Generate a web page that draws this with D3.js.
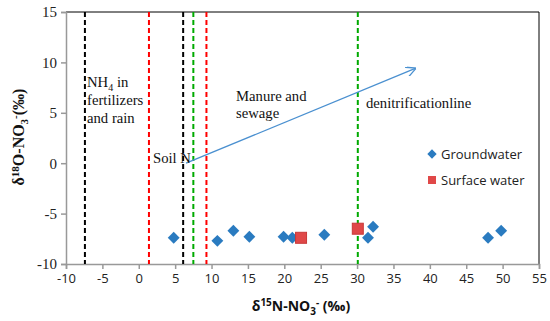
<!DOCTYPE html>
<html>
<head>
<meta charset="UTF-8">
<title>d15N vs d18O</title>
<script src="https://cdn.jsdelivr.net/npm/d3@7"></script>
<style>
body { margin: 0; background: #fff; }
.serif { font-family: "Liberation Serif", "DejaVu Serif", serif; }
.sans { font-family: "Open Sans", "Liberation Sans", sans-serif; }
</style>
</head>
<body>
<script>
// groundwater samples
var gwN = [4.8, 10.8, 13.0, 15.2, 19.9, 21.1, 25.5, 31.5, 32.2, 48.0, 49.8];
var gwO = [-7.4, -7.7, -6.7, -7.3, -7.3, -7.4, -7.1, -7.4, -6.3, -7.4, -6.7];
// surface water samples
var swN = [22.3, 30.1];
var swO = [-7.4, -6.5];
// source boundaries (dashed verticals)
var boundX = [-7.4, 1.4, 6.1, 7.5, 9.3, 30.1];
var boundColor = ["#000", "#f00", "#000", "#0a0", "#f00", "#0a0"];
// denitrification arrow
var arrowFrom = [6.5, 0];
var arrowTo = [38, 9.4];
var xTicks = d3.range(-10, 56, 5);
var yTicks = d3.range(-10, 16, 5);

var W = 550, H = 321;
var m = {top: 12, right: 11, bottom: 57, left: 66};

var svg = d3.select("body").append("svg")
    .attr("width", W).attr("height", H);

var x = d3.scaleLinear().domain([-10, 55]).range([m.left, W - m.right]);
var y = d3.scaleLinear().domain([-10, 15]).range([H - m.bottom, m.top]);

// frame top / right
svg.append("line").attr("x1", x(-10)).attr("x2", x(55)).attr("y1", y(15)).attr("y2", y(15))
    .attr("stroke", "#000").attr("stroke-width", 1);
svg.append("line").attr("x1", x(55)).attr("x2", x(55)).attr("y1", y(15)).attr("y2", y(-10))
    .attr("stroke", "#000").attr("stroke-width", 1);

// axes (plain hyphen for negatives, like the original)
var fmt = function(d) { return String(d); };
var xAxis = svg.append("g").attr("transform", "translate(0," + y(-10) + ")")
    .call(d3.axisBottom(x).tickValues(xTicks).tickSize(5).tickPadding(5).tickFormat(fmt));
xAxis.selectAll("text").attr("class", "sans").style("font-size", "13px").attr("fill", "#222");
var yAxis = svg.append("g").attr("transform", "translate(" + x(-10) + ",0)")
    .call(d3.axisLeft(y).tickValues(yTicks).tickSize(5).tickPadding(4).tickFormat(fmt));
yAxis.selectAll("text").attr("class", "serif").style("font-size", "15px").attr("fill", "#222");
svg.selectAll(".domain, .tick line").attr("stroke", "#999").attr("stroke-width", 1.5);

// dashed verticals
svg.append("g").selectAll("line").data(boundX).enter().append("line")
    .attr("x1", function(d) { return x(d); }).attr("x2", function(d) { return x(d); })
    .attr("y1", y(15)).attr("y2", y(-10))
    .attr("stroke", function(d, i) { return boundColor[i]; })
    .attr("stroke-width", 2).attr("stroke-dasharray", "5,3");

// arrow
svg.append("defs").append("marker").attr("id", "arr")
    .attr("viewBox", "0 0 10 10").attr("refX", 9).attr("refY", 5)
    .attr("markerWidth", 10).attr("markerHeight", 10).attr("orient", "auto")
    .attr("markerUnits", "userSpaceOnUse")
    .append("path").attr("d", "M0,0 L10,5 L0,10").attr("fill", "none")
    .attr("stroke", "#4a90d0").attr("stroke-width", 1.3);
svg.append("line")
    .attr("x1", x(arrowFrom[0])).attr("y1", y(arrowFrom[1]))
    .attr("x2", x(arrowTo[0])).attr("y2", y(arrowTo[1]))
    .attr("stroke", "#4a90d0").attr("stroke-width", 1.3).attr("marker-end", "url(#arr)");

// annotations
function label(lines, px, py, lh) {
  var t = svg.append("text").attr("class", "serif").style("font-size", "14.7px").attr("fill", "#111");
  lines.forEach(function(l, i) {
    var ts = t.append("tspan").attr("x", px).attr("y", py + i * lh);
    if (typeof l === "string") ts.text(l);
    else l(ts);
  });
}
label([function(ts) {
  ts.text("NH");
  ts.append("tspan").attr("dy", 4).style("font-size", "10px").text("4");
  ts.append("tspan").attr("dy", -4).text(" in");
}, "fertilizers", "and rain"], 87, 87, 18);
label(["Manure and", "sewage"], 236, 101, 17);
label(["denitrificationline"], 366, 108, 17);
label(["Soil N"], 153, 163, 17);

// points: diamonds as squares turned 45 degrees
svg.append("g").selectAll("rect").data(gwN).enter().append("rect")
    .attr("x", -4.2).attr("y", -4.2).attr("width", 8.4).attr("height", 8.4)
    .attr("transform", function(d, i) { return "translate(" + x(d) + "," + y(gwO[i]) + ") rotate(45)"; })
    .attr("fill", "#2a7bc0");
svg.append("g").selectAll("rect").data(swN).enter().append("rect")
    .attr("x", function(d) { return x(d) - 5.5; })
    .attr("y", function(d, i) { return y(swO[i]) - 5.5; })
    .attr("width", 11).attr("height", 11)
    .attr("fill", "#e04848").attr("stroke", "#c83838");

// legend
var lg = svg.append("g").attr("transform", "translate(432,154)");
lg.append("rect").attr("x", -3.3).attr("y", -3.3).attr("width", 6.6).attr("height", 6.6)
    .attr("transform", "rotate(45)").attr("fill", "#2a7bc0");
lg.append("text").attr("class", "sans").attr("x", 9).attr("y", 4.5)
    .style("font-size", "13px").attr("fill", "#222").text("Groundwater");
lg.append("rect").attr("x", -4).attr("y", 22).attr("width", 8).attr("height", 8).attr("fill", "#e04848");
lg.append("text").attr("class", "sans").attr("x", 9).attr("y", 30.5)
    .style("font-size", "13px").attr("fill", "#222").text("Surface water");

// axis titles
var xt = svg.append("text").attr("class", "sans").attr("text-anchor", "middle")
    .attr("x", 301).attr("y", 311).style("font-size", "14px").style("font-weight", "bold").attr("fill", "#111");
xt.append("tspan").text("δ");
xt.append("tspan").attr("dy", -5).style("font-size", "10px").text("15");
xt.append("tspan").attr("dy", 5).text("N-NO");
xt.append("tspan").attr("dy", 4).style("font-size", "10px").text("3");
xt.append("tspan").attr("dy", -9).style("font-size", "10px").text("-");
xt.append("tspan").attr("dy", 5).text(" (‰)");

var yt = svg.append("text").attr("class", "serif").attr("text-anchor", "middle")
    .attr("transform", "translate(24,137) rotate(-90)")
    .style("font-size", "16px").style("font-weight", "bold").attr("fill", "#111");
yt.append("tspan").text("δ");
yt.append("tspan").attr("dy", -5).style("font-size", "11px").text("18");
yt.append("tspan").attr("dy", 5).text("O-NO");
yt.append("tspan").attr("dy", 4).style("font-size", "11px").text("3");
yt.append("tspan").attr("dy", -9).style("font-size", "11px").text("-");
yt.append("tspan").attr("dy", 5).text("(‰)");
</script>
</body>
</html>
